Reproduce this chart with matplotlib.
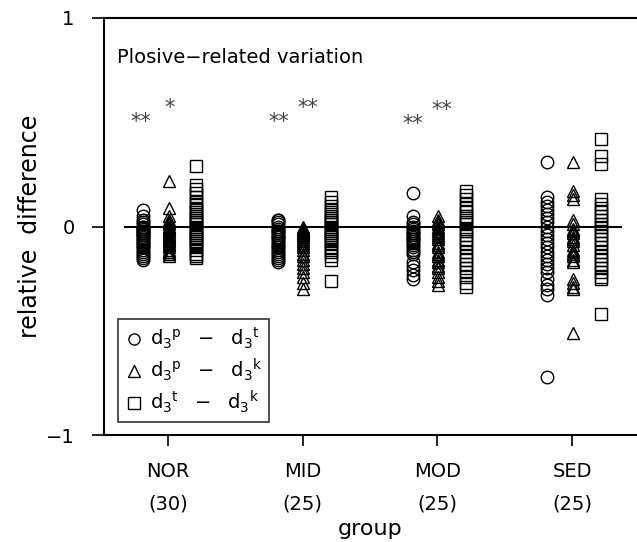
import numpy as np
import matplotlib
matplotlib.use('Agg')
from matplotlib import pyplot as plt

groups = ['NOR', 'MID', 'MOD', 'SED']
group_n = [30, 25, 25, 25]

# d3p - d3t (circles)
circ_nor = [0.08, 0.05, 0.03, 0.02, 0.01, 0.0, 0.0, -0.01, -0.02, -0.02,
            -0.03, -0.04, -0.04, -0.05, -0.06, -0.06, -0.07, -0.08, -0.08, -0.09,
            -0.10, -0.10, -0.11, -0.12, -0.13, -0.14, -0.15, -0.16, -0.03, -0.01]
circ_mid = [0.03, 0.03, 0.02, 0.01, 0.0, -0.01, -0.02, -0.03, -0.04, -0.05,
            -0.05, -0.06, -0.07, -0.08, -0.09, -0.10, -0.10, -0.11, -0.12, -0.13,
            -0.14, -0.15, -0.16, -0.02, -0.17]
circ_mod = [0.16, 0.05, 0.02, 0.01, 0.0, -0.01, -0.02, -0.03, -0.03, -0.04,
            -0.05, -0.06, -0.06, -0.07, -0.08, -0.09, -0.10, -0.11, -0.12, -0.13,
            -0.17, -0.19, -0.21, -0.23, -0.25]
circ_sed = [0.31, 0.14, 0.12, 0.10, 0.08, 0.06, 0.04, 0.02, 0.0, -0.02,
            -0.04, -0.06, -0.08, -0.10, -0.12, -0.14, -0.16, -0.18, -0.20, -0.22,
            -0.25, -0.28, -0.30, -0.33, -0.72]

# d3p - d3k (triangles)
tri_nor = [0.22, 0.09, 0.05, 0.03, 0.02, 0.01, 0.0, 0.0, -0.01, -0.02,
           -0.02, -0.03, -0.04, -0.05, -0.05, -0.06, -0.07, -0.07, -0.08, -0.09,
           -0.09, -0.10, -0.11, -0.12, -0.12, -0.13, -0.14, -0.04, -0.06, -0.01]
tri_mid = [0.0, -0.01, -0.01, -0.02, -0.02, -0.03, -0.03, -0.04, -0.04, -0.05,
           -0.06, -0.07, -0.08, -0.09, -0.10, -0.11, -0.13, -0.14, -0.16, -0.18,
           -0.20, -0.22, -0.24, -0.27, -0.30]
tri_mod = [0.05, 0.03, 0.02, 0.01, 0.0, -0.01, -0.02, -0.03, -0.04, -0.05,
           -0.06, -0.08, -0.09, -0.10, -0.12, -0.13, -0.14, -0.16, -0.17, -0.19,
           -0.20, -0.22, -0.24, -0.26, -0.28]
tri_sed = [0.31, 0.17, 0.15, 0.13, 0.03, 0.01, -0.01, -0.02, -0.03, -0.05,
           -0.07, -0.09, -0.11, -0.12, -0.13, -0.14, -0.16, -0.17, -0.02, -0.06,
           -0.25, -0.27, -0.29, -0.30, -0.51]

# d3t - d3k (squares)
sq_nor = [0.29, 0.20, 0.18, 0.16, 0.14, 0.12, 0.11, 0.09, 0.08, 0.07,
          0.05, 0.04, 0.03, 0.02, 0.01, 0.0, -0.01, -0.02, -0.03, -0.04,
          -0.05, -0.06, -0.07, -0.08, -0.09, -0.10, -0.11, -0.13, -0.14, -0.15]
sq_mid = [0.14, 0.12, 0.10, 0.08, 0.07, 0.05, 0.04, 0.03, 0.02, 0.01,
          0.0, -0.01, -0.02, -0.03, -0.04, -0.05, -0.06, -0.07, -0.08, -0.10,
          -0.11, -0.12, -0.14, -0.16, -0.26]
sq_mod = [0.17, 0.15, 0.13, 0.11, 0.09, 0.07, 0.05, 0.04, 0.02, 0.01,
          -0.01, -0.02, -0.04, -0.06, -0.08, -0.10, -0.12, -0.14, -0.16, -0.18,
          -0.20, -0.22, -0.24, -0.27, -0.29]
sq_sed = [0.42, 0.34, 0.30, 0.13, 0.11, 0.09, 0.07, 0.05, 0.03, 0.01,
          0.0, -0.02, -0.04, -0.06, -0.08, -0.10, -0.12, -0.14, -0.16, -0.18,
          -0.20, -0.22, -0.24, -0.25, -0.42]

circles = [circ_nor, circ_mid, circ_mod, circ_sed]
triangles = [tri_nor, tri_mid, tri_mod, tri_sed]
squares = [sq_nor, sq_mid, sq_mod, sq_sed]

plt.rcParams['font.family'] = ['DejaVu Sans']
plt.rcParams['mathtext.default'] = 'regular'

fig = plt.figure(figsize=(6.37, 5.42), dpi=100)
ax = fig.add_axes([0.163, 0.197, 0.837, 0.770])

mk = dict(linestyle='none', mfc='none', mec='black', mew=1.0, ms=9, clip_on=False)
series = [(circles, 'o', -0.185, r'$d_3{}^p\ \ -\ \ d_3{}^t$'),
          (triangles, '^', 0.005, r'$d_3{}^p\ \ -\ \ d_3{}^k$'),
          (squares, 's', 0.21, r'$d_3{}^t\ \ -\ \ d_3{}^k$')]
for data, m, off, lab in series:
    for i, vals in enumerate(data):
        xs = np.full(len(vals), i + 1 + off)
        ax.plot(xs, vals, marker=m, label=lab if i == 0 else None, **mk)

ax.axhline(0, xmin=0.04, xmax=0.97, color='black', lw=1.5)

# significance stars
stars = [(0.80, 0.50, '**'), (1.01, 0.57, '*'),
         (1.82, 0.50, '**'), (2.04, 0.57, '**'),
         (2.82, 0.49, '**'), (3.03, 0.56, '**')]
for sx, sy, s in stars:
    ax.text(sx, sy, s, ha='center', va='center', fontsize=15, color='#444444')

ax.text(0.62, 0.81, 'Plosive\u2212related variation', fontsize=14,
        ha='left', va='center')

ax.set_xlim(0.525, 4.48)
ax.set_ylim(-1, 1)
ax.set_yticks([-1, 0, 1])
ax.set_yticklabels(['\u22121', '0', '1'])
ax.set_xticks([1, 2, 3, 4])
ax.set_xticklabels(['%s\n(%d)' % (g, n) for g, n in zip(groups, group_n)],
                   linespacing=1.9)
ax.tick_params(axis='both', direction='out', labelsize=14, width=1.2)
ax.tick_params(axis='y', length=9, pad=12)
ax.tick_params(axis='x', length=8, pad=11)
ax.spines['right'].set_visible(False)
for s in ['left', 'top', 'bottom']:
    ax.spines[s].set_linewidth(1.5)

ax.set_xlabel('group', fontsize=16, labelpad=4)
ax.set_ylabel('relative  difference', fontsize=17, labelpad=3)

leg = ax.legend(loc='lower left', bbox_to_anchor=(0.026, 0.031), borderaxespad=0,
                fontsize=14, frameon=True, fancybox=False, handletextpad=0.3,
                handlelength=1.0, labelspacing=0.3, borderpad=0.35)
leg.get_frame().set_edgecolor('black')
leg.get_frame().set_linewidth(1.2)
for h in leg.legend_handles:
    h.set_markersize(8)

fig.savefig('out.png', dpi=100)
